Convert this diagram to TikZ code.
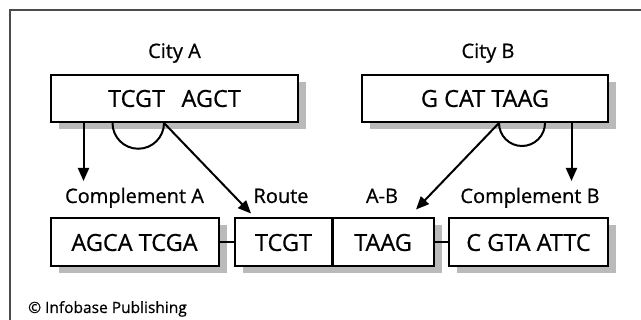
\documentclass[tikz,border=0pt]{standalone}
\usepackage{fontspec}
\setmainfont[FakeBold=0.7]{Open Sans}
\usetikzlibrary{arrows.meta,shadows,calc}
\tikzset{
  seqbox/.style={draw=black,line width=2pt,fill=white,inner sep=0pt,
    font=\fontsize{23.5}{27}\selectfont,
    drop shadow={shadow xshift=8pt,shadow yshift=-7pt,fill=black!27,opacity=1}},
  lbl/.style={inner sep=0pt,anchor=base,font=\fontsize{20}{24}\selectfont},
  conn/.style={line width=2pt},
  arr/.style={line width=2pt,-{Triangle[length=13pt,width=11pt]}},
  frame/.style={draw=black!70,line width=2pt}
}
\begin{document}
\begin{tikzpicture}[x=1pt,y=1pt]
\useasboundingbox (0,0) rectangle (641,-320);
\draw[frame] (10,-320) -- (10,-10) -- (641,-10);
% top boxes
\node[seqbox,minimum width=247pt,minimum height=47pt] (cityA) at (174.5,-98.5) {TCGT\hspace{0.7em}AGCT};
\node[seqbox,minimum width=246pt,minimum height=47pt] (cityB) at (485,-98.5) {G CAT TAAG};
\node[lbl] (labA) at (174.5,-58) {City A};
\node[lbl] (labB) at (488,-58) {City B};
% bottom boxes
\node[seqbox,minimum width=168pt,minimum height=48pt] (compA) at (134.5,-242.5) {AGCA TCGA};
\node[seqbox,minimum width=97pt,minimum height=48pt] (route) at (283.5,-242.5) {TCGT};
\node[seqbox,minimum width=102pt,minimum height=48pt] (ab) at (383,-242.5) {TAAG};
\node[seqbox,minimum width=159pt,minimum height=48pt] (compB) at (528.5,-242.5) {C GTA ATTC};
\draw[line width=2pt] (route.north east) -- (route.south east);
% labels
\node[lbl] (lcompA) at (134.5,-203) {Complement A};
\node[lbl] (lroute) at (281,-203) {Route};
\node[lbl] (lab) at (382,-203) {A-B};
\node[lbl] (lcompB) at (530,-203) {Complement B};
\node[font=\fontsize{15.5}{18}\selectfont,inner sep=0pt,anchor=base west] (copy) at (28,-313) {© Infobase Publishing};
% connectors between bottom boxes
\draw[conn] (compA.east) -- (route.west);
\draw[conn] (ab.east) -- (compB.west);
% semicircles
\coordinate (sA1) at ($(cityA.south west)+(62.5,0)$);
\coordinate (sA2) at ($(cityA.south west)+(114,0)$);
\coordinate (sB1) at ($(cityB.south west)+(138,0)$);
\coordinate (sB2) at ($(cityB.south west)+(184,0)$);
\draw[conn] (sA1) arc[start angle=180,end angle=360,radius=25.75];
\draw[conn] (sB1) arc[start angle=180,end angle=360,radius=23];
% arrows
\coordinate (aA) at ($(cityA.south west)+(33.5,0)$);
\coordinate (tA) at (aA |- 0,-181);
\draw[arr] (aA) -- (tA);
\coordinate (tR) at ($(route.north west)+(17,4)$);
\draw[arr] (sA2) -- (tR);
\coordinate (tB) at ($(ab.north east)+(-19,8)$);
\draw[arr] (sB1) -- (tB);
\coordinate (aB) at ($(cityB.south west)+(210.5,0)$);
\coordinate (tB2) at (aB |- 0,-181);
\draw[arr] (aB) -- (tB2);
\end{tikzpicture}
\end{document}
